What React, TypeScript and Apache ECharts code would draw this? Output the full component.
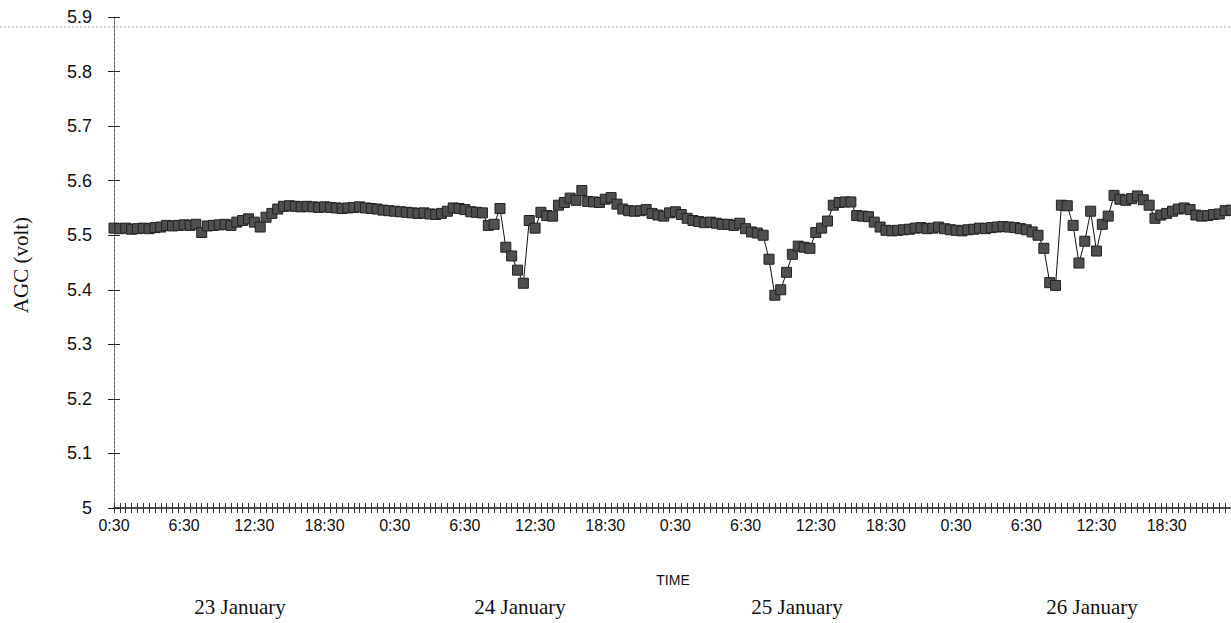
import React, { useEffect, useRef } from "react";
import * as echarts from "echarts";

// AGC readings, every half hour from 23 January 0:30 to 26 January 24:00
const agcValues: number[] = [
  5.513, 5.512, 5.513, 5.511, 5.512, 5.513, 5.512, 5.514, 5.515, 5.518,
  5.517, 5.518, 5.519, 5.518, 5.52, 5.505, 5.517, 5.518, 5.519, 5.52,
  5.518, 5.524, 5.527, 5.53, 5.524, 5.515, 5.533, 5.54, 5.548, 5.553,
  5.554, 5.553, 5.552, 5.553, 5.552, 5.551, 5.552, 5.551, 5.55, 5.549,
  5.55, 5.551, 5.552, 5.55, 5.549, 5.548, 5.546, 5.545, 5.544, 5.543,
  5.542, 5.541, 5.54, 5.541, 5.539, 5.538, 5.54, 5.544, 5.55, 5.549,
  5.547, 5.543, 5.542, 5.541, 5.518, 5.52, 5.549, 5.478, 5.462, 5.436,
  5.412, 5.527, 5.513, 5.542, 5.536, 5.535, 5.555, 5.56, 5.568, 5.564,
  5.582, 5.562, 5.561, 5.56, 5.566, 5.569, 5.557, 5.548, 5.545, 5.544,
  5.545, 5.547, 5.54, 5.537, 5.535, 5.541, 5.543, 5.538, 5.531, 5.527,
  5.525, 5.523, 5.524, 5.522, 5.52, 5.52, 5.518, 5.522, 5.512, 5.506,
  5.504, 5.5, 5.456, 5.39, 5.4, 5.432, 5.465, 5.48, 5.478, 5.476,
  5.505, 5.513, 5.526, 5.555, 5.56, 5.561, 5.561, 5.536, 5.535, 5.534,
  5.524, 5.515, 5.509, 5.508, 5.509, 5.51, 5.511, 5.513, 5.514, 5.512,
  5.513, 5.515, 5.512, 5.51, 5.509, 5.508, 5.51, 5.511, 5.513, 5.512,
  5.514, 5.515, 5.516, 5.515, 5.514, 5.512, 5.51, 5.506, 5.5, 5.476,
  5.413, 5.408, 5.555, 5.554, 5.518, 5.449, 5.489, 5.544, 5.471, 5.52,
  5.535, 5.573, 5.566, 5.564, 5.567, 5.572, 5.565, 5.555, 5.531, 5.537,
  5.54, 5.544, 5.548, 5.55, 5.547, 5.537, 5.535, 5.536, 5.538, 5.539,
  5.545, 5.546,
];

const days: string[] = ["23 January", "24 January", "25 January", "26 January"];
const dayLabelX: number[] = [240, 520, 797, 1092];

// half-hour time of day labels: 0:30, 1:00, ..., 24:00 for each day
const halfHours: string[] = [];
for (let d = 0; d < days.length; d++) {
  for (let k = 1; k <= 48; k++) {
    const h = Math.floor(k / 2);
    const m = k % 2 === 1 ? "30" : "00";
    halfHours.push(`${h % 24}:${m}`);
  }
}
const categories: string[] = halfHours.map((t, i) => `${days[Math.floor(i / 48)]} ${t}`);
const tickLabels: string[] = halfHours;

const yMin = 5;
const yMax = 5.9;
const yStep = 0.1;

export default function App() {
  const ref = useRef<HTMLDivElement>(null);

  useEffect(() => {
    if (!ref.current) return;
    const chart = echarts.init(ref.current, undefined, { renderer: "svg" });
    const sans = "'Liberation Sans', Arial, Helvetica, sans-serif";
    const serif = "'Liberation Serif', 'Times New Roman', Times, serif";
    const grid = { left: 114, right: 0, top: 17, bottom: 115 };

    const xCommon = {
      type: "category" as const,
      data: categories,
      boundaryGap: false,
      position: "bottom" as const,
    };
    const yCommon = {
      type: "value" as const,
      min: yMin,
      max: yMax,
      interval: yStep,
      position: "left" as const,
      splitLine: { show: false },
    };

    chart.setOption({
      animation: false,
      backgroundColor: "#ffffff",
      grid,
      xAxis: [
        {
          ...xCommon,
          axisLine: { show: true, lineStyle: { color: "#111", width: 1.5 } },
          axisTick: { show: true, inside: false, length: 5, interval: 0, lineStyle: { color: "#333", width: 1 } },
          axisLabel: {
            show: true,
            interval: 11,
            margin: 9,
            color: "#111",
            fontFamily: sans,
            fontSize: 16,
            formatter: (_v: string, i: number) => tickLabels[i],
          },
        },
        {
          ...xCommon,
          axisLine: { show: false },
          axisTick: { show: true, inside: true, length: 5, interval: 0, lineStyle: { color: "#333", width: 1 } },
          axisLabel: { show: false },
        },
      ],
      yAxis: [
        {
          ...yCommon,
          axisLine: { show: true, lineStyle: { color: "#666", width: 1, type: [3, 1] } },
          axisTick: { show: true, inside: false, length: 6, lineStyle: { color: "#222", width: 1 } },
          axisLabel: {
            show: true,
            margin: 22,
            color: "#111",
            fontFamily: sans,
            fontSize: 18,
            formatter: (v: number) => String(Number(v.toFixed(1))),
          },
        },
        {
          ...yCommon,
          axisLine: { show: false },
          axisTick: { show: true, inside: true, length: 6, lineStyle: { color: "#222", width: 1 } },
          axisLabel: { show: false },
        },
      ],
      graphic: [
        {
          type: "line",
          shape: { x1: 0, y1: 27, x2: 1231, y2: 27 },
          style: { stroke: "#d4d4d4", lineWidth: 2, lineDash: [2, 2] },
          silent: true,
          z: -1,
        },
        {
          type: "text",
          x: 673,
          y: 580,
          style: {
            text: "TIME",
            fill: "#111",
            font: `14px ${sans}`,
            align: "center",
            verticalAlign: "middle",
          },
        },
        {
          type: "text",
          x: 21,
          y: 265,
          rotation: Math.PI / 2,
          style: {
            text: "AGC (volt)",
            fill: "#111",
            font: `21px ${serif}`,
            align: "center",
            verticalAlign: "middle",
          },
        },
        ...days.map((d, i) => ({
          type: "text",
          x: dayLabelX[i],
          y: 607,
          style: {
            text: d,
            fill: "#111",
            font: `21px ${serif}`,
            align: "center",
            verticalAlign: "middle",
          },
        })),
      ],
      series: [
        {
          type: "line",
          xAxisIndex: 0,
          yAxisIndex: 0,
          data: agcValues,
          symbol: "rect",
          symbolSize: 10,
          showSymbol: true,
          showAllSymbol: true,
          clip: false,
          lineStyle: { color: "#111", width: 1 },
          itemStyle: { color: "#4f4f4f", borderColor: "#222222", borderWidth: 1 },
          emphasis: { disabled: true },
        },
      ],
    });

    return () => {
      chart.dispose();
    };
  }, []);

  return (
    <div
      ref={ref}
      style={{ position: "fixed", left: 0, top: 0, width: 1231, height: 623, background: "#fff" }}
    />
  );
}
